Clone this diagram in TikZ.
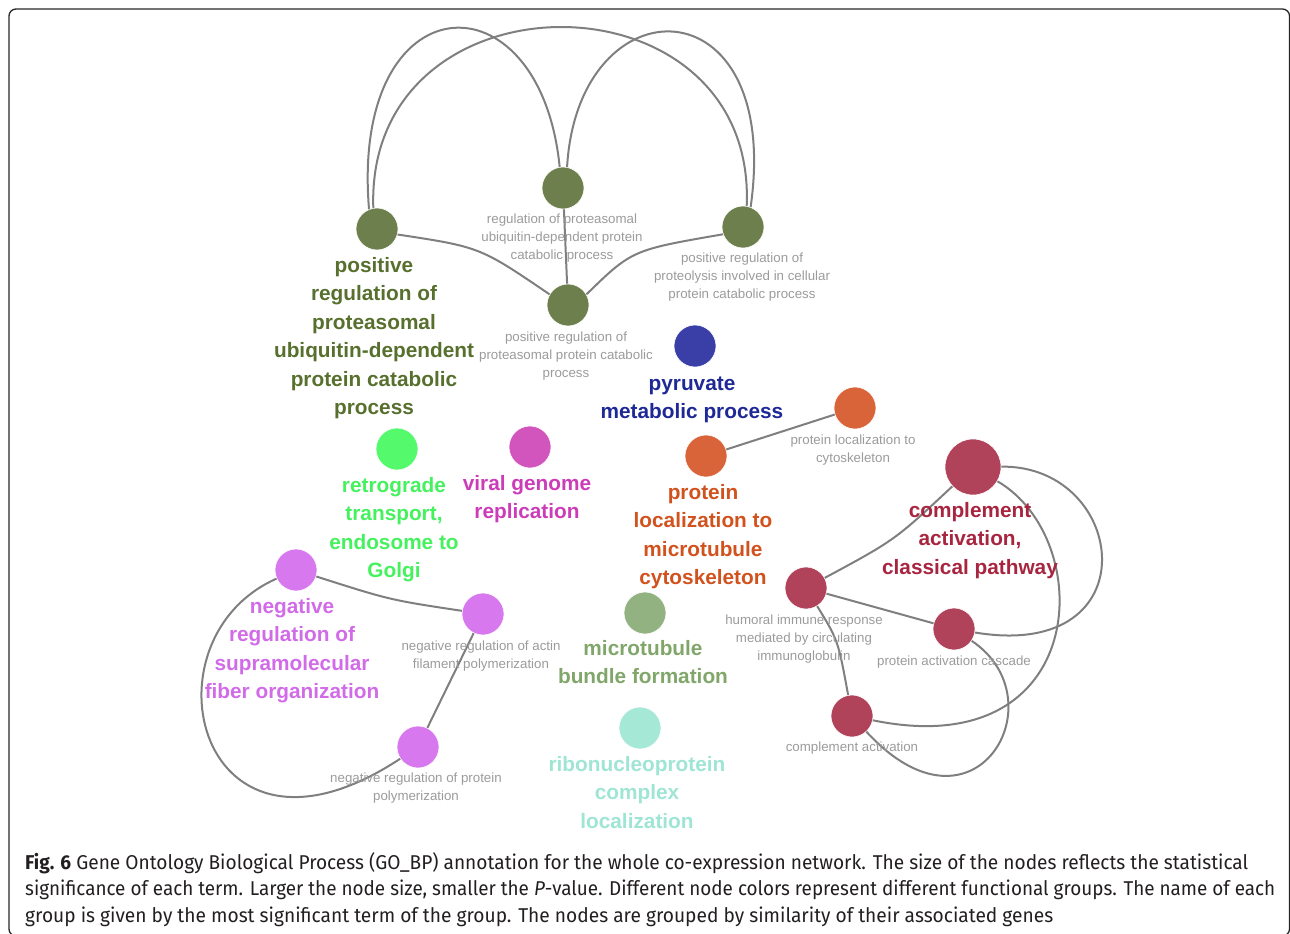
\documentclass[tikz,border=0pt]{standalone}
\usepackage{fontspec}
\setmainfont{Liberation Sans}
\newfontfamily\capfont{Fira Sans}
\usepackage{graphicx}
\definecolor{cOlive}{HTML}{6E7F4E}
\definecolor{tOlive}{HTML}{58702E}
\definecolor{cBlue}{HTML}{3A3FA8}
\definecolor{tBlue}{HTML}{1E2896}
\definecolor{cOrange}{HTML}{D9643A}
\definecolor{tOrange}{HTML}{D2521E}
\definecolor{cCrim}{HTML}{B0425A}
\definecolor{tCrim}{HTML}{A82540}
\definecolor{cLime}{HTML}{55F96C}
\definecolor{tLime}{HTML}{45F25E}
\definecolor{cMag}{HTML}{D255BE}
\definecolor{tMag}{HTML}{CC3CB9}
\definecolor{cViol}{HTML}{D878EE}
\definecolor{tViol}{HTML}{D16BE8}
\definecolor{cSage}{HTML}{93B282}
\definecolor{tSage}{HTML}{80A66A}
\definecolor{cMint}{HTML}{A6E8D6}
\definecolor{tMint}{HTML}{9FE5D3}
\definecolor{lblgray}{HTML}{9B9B9B}
\definecolor{edgegray}{HTML}{7F7F7F}
\definecolor{captext}{HTML}{231F20}
\newcommand\lines[1]{\begin{tabular}[t]{@{}c@{}}#1\end{tabular}}
\tikzset{
  gonode/.style={circle, inner sep=0pt, minimum size=42pt, draw=white, line width=0.6pt},
  edge/.style={draw=edgegray, line width=2pt},
  biglbl/.style={font=\bfseries\fontsize{20.8}{28.4}\selectfont, inner sep=0pt, anchor=base},
  smalllbl/.style={font=\fontsize{13.3}{18}\selectfont, text=lblgray, inner sep=0pt, anchor=base},
  capline/.style={font=\capfont\fontsize{20}{26}\selectfont, text=captext, inner sep=0pt, anchor=base west},
}
\begin{document}
\begin{tikzpicture}[x=1pt,y=-1pt]
\useasboundingbox (0,0) rectangle (1290,934);
\draw[line width=1.3pt, draw=black!85, rounded corners=7pt] (9,9) rectangle (1289.5,936);

% nodes
\node[gonode, fill=cOlive] (A) at (377,229) {};
\node[gonode, fill=cOlive] (B) at (563,188) {};
\node[gonode, fill=cOlive] (C) at (743,227) {};
\node[gonode, fill=cOlive] (D) at (568,305) {};
\node[gonode, fill=cBlue] (E) at (695,346) {};
\node[gonode, fill=cOrange] (F) at (706,456) {};
\node[gonode, fill=cOrange] (G) at (855,408) {};
\node[gonode, fill=cCrim, minimum size=56pt] (H) at (973,467) {};
\node[gonode, fill=cCrim] (I) at (806,588) {};
\node[gonode, fill=cCrim] (J) at (954,629) {};
\node[gonode, fill=cCrim] (K) at (852,716) {};
\node[gonode, fill=cViol] (L) at (296,570) {};
\node[gonode, fill=cViol] (M) at (483,614) {};
\node[gonode, fill=cViol] (N) at (418,747) {};
\node[gonode, fill=cLime] (O) at (397,449) {};
\node[gonode, fill=cMag] (P) at (530,447) {};
\node[gonode, fill=cSage] (Q) at (645,613) {};
\node[gonode, fill=cMint] (R) at (640,728) {};

% edges
\draw[edge] (A.112) .. controls (350,-20) and (540,-30) .. (B.99);
\draw[edge] (A.100) .. controls (365,-33) and (757,-33) .. (C.80);
\draw[edge] (B.79) .. controls (578,-20) and (783,-20) .. (C.69);
\draw[edge] (A.-15) .. controls (480,247) .. (D.150);
\draw[edge] (B) -- (D);
\draw[edge] (D.30) .. controls (632,250) .. (C.200);
\draw[edge] (F) -- (G);
\draw[edge] (I) .. controls (895,540) .. (H);
\draw[edge] (I) -- (J);
\draw[edge] (I) .. controls (838,640) .. (K);
\draw[edge] (H) .. controls (1128,465) and (1152,662) .. (J);
\draw[edge] (H) .. controls (1098,540) and (1090,765) .. (K);
\draw[edge] (J) .. controls (1060,700) and (975,850) .. (K);
\draw[edge] (L) .. controls (390,600) .. (M);
\draw[edge] (M) -- (N);
\draw[edge] (L) .. controls (138,640) and (198,892) .. (N);

% labels
\node[biglbl, text=tOlive] (Al) at (374,272.5) {\lines{positive\\regulation of\\proteasomal\\ubiquitin-dependent\\protein catabolic\\process}};
\node[smalllbl] (Bl) at (562,223.5) {\lines{regulation of proteasomal\\ubiquitin-dependent protein\\catabolic process}};
\node[smalllbl] (Cl) at (742,262.5) {\lines{positive regulation of\\proteolysis involved in cellular\\protein catabolic process}};
\node[smalllbl] (Dl) at (566,341.5) {\lines{positive regulation of\\proteasomal protein catabolic\\process}};
\node[biglbl, text=tBlue] (El) at (692,390.5) {\lines{pyruvate\\metabolic process}};
\node[biglbl, text=tOrange] (Fl) at (703,499.5) {\lines{protein\\localization to\\microtubule\\cytoskeleton}};
\node[smalllbl] (Gl) at (853,444.5) {\lines{protein localization to\\cytoskeleton}};
\node[biglbl, text=tCrim] (Hl) at (970,517.5) {\lines{complement\\activation,\\classical pathway}};
\node[smalllbl] (Il) at (804,624.5) {\lines{humoral immune response\\mediated by circulating\\immunoglobulin}};
\node[smalllbl] (Jl) at (954,665.5) {\lines{protein activation cascade}};
\node[smalllbl] (Kl) at (852,751.5) {\lines{complement activation}};
\node[biglbl, text=tViol] (Ll) at (292,613.5) {\lines{negative\\regulation of\\supramolecular\\fiber organization}};
\node[smalllbl] (Ml) at (481,650.5) {\lines{negative regulation of actin\\filament polymerization}};
\node[smalllbl] (Nl) at (416,782.5) {\lines{negative regulation of protein\\polymerization}};
\node[biglbl, text=tLime] (Ol) at (394,492.5) {\lines{retrograde\\transport,\\endosome to\\Golgi}};
\node[biglbl, text=tMag] (Pl) at (527,490.5) {\lines{viral genome\\replication}};
\node[biglbl, text=tSage] (Ql) at (643,655.5) {\lines{microtubule\\bundle formation}};
\node[biglbl, text=tMint] (Rl) at (637,771.5) {\lines{ribonucleoprotein\\complex\\localization}};

% caption
\node[capline] (cap1) at (25,869) {\resizebox{1223pt}{\height}{\textbf{Fig. 6} Gene Ontology Biological Process (GO\_BP) annotation for the whole co-expression network. The size of the nodes reflects the statistical}};
\node[capline] (cap2) at (25,895.5) {\resizebox{1250pt}{\height}{significance of each term. Larger the node size, smaller the \textit{P}-value. Different node colors represent different functional groups. The name of each}};
\node[capline] (cap3) at (25,922) {\resizebox{1028pt}{\height}{group is given by the most significant term of the group. The nodes are grouped by similarity of their associated genes}};
\end{tikzpicture}
\end{document}
